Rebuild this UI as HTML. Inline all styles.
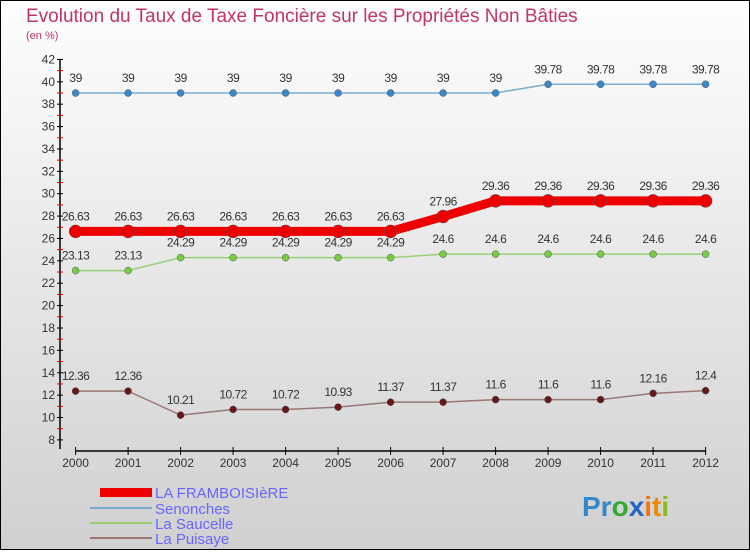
<!DOCTYPE html>
<html><head><meta charset="utf-8"><style>
body{margin:0;}
#wrap{position:relative;width:750px;height:550px;}
svg{font-family:"Liberation Sans",sans-serif;}
</style></head><body>
<div id="wrap">
<svg id="c" width="750" height="550" xmlns="http://www.w3.org/2000/svg">
<defs><linearGradient id="bg" x1="0" y1="0" x2="0" y2="1"><stop offset="0" stop-color="#fefefe"/><stop offset="1" stop-color="#d0d0d0"/></linearGradient></defs>
<rect x="0.5" y="0.5" width="749" height="549" fill="url(#bg)" stroke="#000"/>
<text x="26" y="22" font-size="19" fill="#c03468">Evolution du Taux de Taxe Foncière sur les Propriétés Non Bâties</text>
<text x="26" y="39" font-size="11" fill="#c03468">(en %)</text>
<g id="axes"></g><g id="series"></g>
<g>
<rect x="100" y="488" width="52" height="9" fill="#ee0000"/>
<text x="155" y="498" font-size="15" fill="#6666ff">LA FRAMBOISIèRE</text>
<line x1="90" y1="508" x2="152" y2="508" stroke="#7aaacc" stroke-width="2"/>
<text x="155" y="514" font-size="15" fill="#6666ff">Senonches</text>
<line x1="90" y1="523" x2="152" y2="523" stroke="#99d077" stroke-width="2"/>
<text x="155" y="529" font-size="15" fill="#6666ff">La Saucelle</text>
<line x1="90" y1="538" x2="152" y2="538" stroke="#997777" stroke-width="2"/>
<text x="155" y="544" font-size="15" fill="#6666ff">La Puisaye</text>
</g>
<g font-size="28" font-weight="bold">
<text x="582" y="516"><tspan fill="#3388cc">Pr</tspan><tspan fill="#33aa33">o</tspan><tspan fill="#2266cc">x</tspan><tspan fill="#ee7711">i</tspan><tspan fill="#ee8800">t</tspan><tspan fill="#88bb22">i</tspan></text>
</g>
</svg></div>
<script>
const years=[2000,2001,2002,2003,2004,2005,2006,2007,2008,2009,2010,2011,2012];
const framboisiere=[26.63,26.63,26.63,26.63,26.63,26.63,26.63,27.96,29.36,29.36,29.36,29.36,29.36];
const senonches=[39,39,39,39,39,39,39,39,39,39.78,39.78,39.78,39.78];
const saucelle=[23.13,23.13,24.29,24.29,24.29,24.29,24.29,24.6,24.6,24.6,24.6,24.6,24.6];
const puisaye=[12.36,12.36,10.21,10.72,10.72,10.93,11.37,11.37,11.6,11.6,11.6,12.16,12.4];
const yTicks=[8,10,12,14,16,18,20,22,24,26,28,30,32,34,36,38,40,42];
const NS="http://www.w3.org/2000/svg";
const X=i=>75.6+i*52.5;
const Y=v=>93+(39-v)*11.19;
function mk(t,a,p){const e=document.createElementNS(NS,t);for(const k in a)e.setAttribute(k,a[k]);p.appendChild(e);return e;}
const ax=document.getElementById('axes');
let l=mk('line',{x1:60,y1:Y(42),x2:60,y2:449,stroke:'#000','stroke-width':1.5},ax);


yTicks.forEach(v=>{
 let t=mk('line',{x1:57,x2:63,y1:Y(v),y2:Y(v),stroke:'#000'},ax);
 
 
 if(v<42){mk('line',{x1:57,x2:63,y1:Y(v+1),y2:Y(v+1),stroke:'#e00'},ax);}
 let tx=mk('text',{x:55,y:Y(v)+4,'text-anchor':'end','font-size':12,fill:'#333'},ax);
 tx.textContent=v;
 
 
});
let xl=mk('line',{x1:X(0),x2:X(12),y1:451,y2:451,stroke:'#000','stroke-width':1.5},ax);


years.forEach((yr,i)=>{
 mk('line',{x1:X(i),x2:X(i),y1:447,y2:455,stroke:'#000'},ax);
 let tx=mk('text',{x:X(i),y:467,'text-anchor':'middle','font-size':12,fill:'#333'},ax);
 tx.textContent=yr;
 
 
});
const sg=document.getElementById('series');
function series(d,name,col,w,r,dot){
 const g=mk('g',{},sg);
 
 
 const p=mk('polyline',{points:d.map((v,i)=>X(i)+','+Y(v)).join(' '),fill:'none',stroke:col,'stroke-width':w},g);
 
 
 d.forEach((v,i)=>{
  const c=mk('circle',{cx:X(i),cy:Y(v),r:r,fill:dot,stroke:'#555','stroke-width':0.5},g);
  
  
  const t=mk('text',{x:X(i),y:Y(v)-11,'text-anchor':'middle','font-size':12,fill:'#333','letter-spacing':'-0.5'},g);
  t.textContent=v;
  
  
 });
}
series(senonches,'senonches','#7aaed6',1.5,3.5,'#3a88c8');
series(saucelle,'saucelle','#99d077',1.5,3.5,'#77cc44');
series(puisaye,'puisaye','#997777',1.5,3.5,'#661818');
series(framboisiere,'framboisiere','#ee0000',9,6.5,'#ee0000');
</script>
</body></html>
